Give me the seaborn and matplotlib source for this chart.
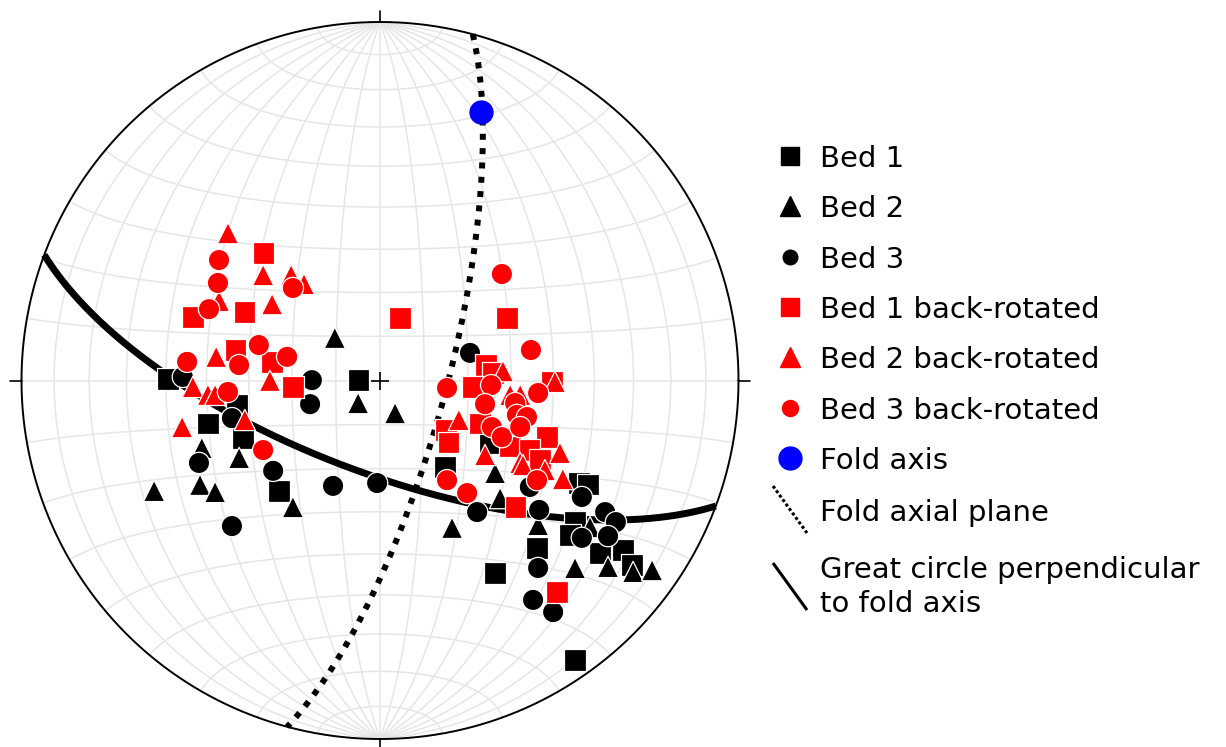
import numpy as np
import pandas as pd
import matplotlib
matplotlib.use("Agg")
import matplotlib.pyplot as plt
import seaborn as sns

# Poles on a lower-hemisphere equal-area (Schmidt) net.
# Coordinates are (east, north) on the projection, net radius = 100.
bed1_east = [-59.1, -48.0, -38.2, -39.9, -5.9, -28.2, 18.1, 43.8, 32.1, 54.4, 55.5, 58.0,
             54.4, 53.0, 61.4, 67.8, 70.3, 30.7]
bed1_north = [0.4, -11.9, -16.0, -6.8, 0.1, -30.8, -24.1, -46.7, -53.7, -78.0, -28.6, -29.1,
              -39.5, -43.1, -48.1, -47.3, -51.5, -17.4]

bed2_east = [-12.6, -6.1, 4.2, -49.7, -39.3, -63.0, -50.2, -46.0, -24.3, 32.1, 33.5, 20.1,
             44.1, 58.6, 63.6, 70.6, 75.9, 54.4]
bed2_north = [11.9, -6.3, -9.1, -18.8, -21.6, -30.8, -29.1, -31.1, -35.3, -25.8, -32.8, -41.1,
              -40.3, -40.9, -52.0, -53.4, -52.9, -52.3]

bed3_east = [-55.0, -19.0, -19.5, -41.3, -50.5, -29.8, -41.3, -13.1, -0.8, 25.1, 27.1, 41.8,
             44.4, 56.3, 62.8, 65.8, 63.6, 56.3, 44.1, 42.7, 48.3]
bed3_north = [1.0, 0.1, -6.6, -10.5, -23.0, -25.2, -40.6, -29.4, -28.6, 7.7, -36.7, -29.7,
              -36.1, -32.5, -36.7, -39.5, -43.4, -43.9, -52.3, -61.2, -64.6]

bed1_rot_east = [-32.4, -52.2, -37.7, -40.4, -30.1, -24.3, 5.6, 35.4, 29.6, 31.5, 48.0, 25.9,
                 18.4, 19.2, 27.9, 36.3, 46.6, 41.8, 44.6, 37.7, 49.4]
bed1_rot_north = [35.6, 17.7, 19.1, 8.5, 5.2, -1.8, 17.4, 17.4, 4.3, 2.1, -0.4, -1.8,
                  -13.8, -17.2, -11.9, -18.5, -15.8, -19.4, -22.2, -35.3, -59.0]

bed2_rot_east = [-42.4, -32.6, -24.8, -21.2, -44.9, -30.1, -45.7, -30.7, -52.2, -48.0, -46.0,
                 -37.7, -55.2, 34.3, 48.8, 36.3, 39.1, 22.0, 29.3, 39.1, 46.0, 50.2, 51.0, 39.9]
bed2_rot_north = [41.1, 29.4, 29.4, 26.9, 22.2, 21.3, 6.6, -0.1, -1.8, -4.0, -4.0,
                  -11.0, -13.0, 2.6, -0.4, -4.0, -4.0, -11.0, -20.8, -23.0, -25.0, -20.2, -27.5, -23.6]

bed3_rot_east = [-44.9, -45.2, -24.3, -47.7, -33.8, -39.3, -53.8, -25.9, -42.4, -32.6, 34.0,
                 42.1, 18.7, 31.0, 44.1, 29.3, 37.7, 38.2, 41.0, 31.2, 34.0, 39.1, 18.7, 24.3, 43.8]
bed3_rot_north = [33.6, 27.2, 25.8, 19.9, 9.9, 4.3, 5.2, 6.6, -3.2, -19.4, 29.7,
                  8.5, -2.1, -1.3, -3.5, -6.6, -6.3, -9.6, -10.2, -13.0, -15.8, -13.0, -27.8, -31.4, -27.8]

# Fold geometry (degrees)
fold_axis_trend = 20.5
fold_axis_plunge = 21.0
axial_plane_strike = 15.0
axial_plane_dip = 75.0

series_labels = ["Bed 1", "Bed 2", "Bed 3",
                 "Bed 1 back-rotated", "Bed 2 back-rotated", "Bed 3 back-rotated"]
extra_labels = ["Fold axis", "Fold axial plane",
                "Great circle perpendicular\nto fold axis"]

series_east = [bed1_east, bed2_east, bed3_east, bed1_rot_east, bed2_rot_east, bed3_rot_east]
series_north = [bed1_north, bed2_north, bed3_north, bed1_rot_north, bed2_rot_north, bed3_rot_north]
series_colors = ["black", "black", "black", "#ff0000", "#ff0000", "#ff0000"]
series_markers = ["s", "^", "o", "s", "^", "o"]

df = pd.concat(
    [pd.DataFrame({"east": e, "north": n, "series": lab})
     for e, n, lab in zip(series_east, series_north, series_labels)],
    ignore_index=True,
)

# ---------------------------------------------------------------- projection
NET_R = 100.0


def project(v):
    """Lower-hemisphere Lambert equal-area projection of unit vectors (E, N, Down)."""
    v = np.atleast_2d(np.asarray(v, float))
    e, n, d = v[:, 0], v[:, 1], np.clip(v[:, 2], 0, 1)
    s = NET_R / np.sqrt(1.0 + d)
    return e * s, n * s


def line_vector(trend, plunge):
    t, p = np.radians(trend), np.radians(plunge)
    return np.array([np.sin(t) * np.cos(p), np.cos(t) * np.cos(p), np.sin(p)])


def plane_trace(strike, dip, n=721):
    s, dp = np.radians(strike), np.radians(dip)
    a = np.array([np.sin(s), np.cos(s), 0.0])
    dd = s + np.pi / 2
    b = np.array([np.sin(dd) * np.cos(dp), np.cos(dd) * np.cos(dp), np.sin(dp)])
    t = np.linspace(0, np.pi, n)[:, None]
    return project(a * np.cos(t) + b * np.sin(t))


def small_circle_ns(alpha, n=721):
    al = np.radians(alpha)
    ph = np.linspace(0, np.pi, n)
    v = np.column_stack([np.sin(al) * np.cos(ph), np.full_like(ph, np.cos(al)), np.sin(al) * np.sin(ph)])
    return project(v)


# ---------------------------------------------------------------- figure
W_PX, H_PX, DPI = 1226, 747, 100
CX_PX, CY_PX, R_PX = 380.0, 380.5, 358.5
scale = R_PX / NET_R

sns.set_theme(style="white")
plt.rcParams["font.family"] = ["DejaVu Sans"]
plt.rcParams["text.color"] = "black"

fig = plt.figure(figsize=(W_PX / DPI, H_PX / DPI), dpi=DPI)
ax = fig.add_axes([0, 0, 1, 1])
ax.set_xlim(-CX_PX / scale, (W_PX - CX_PX) / scale)
ax.set_ylim(-(H_PX - CY_PX) / scale, CY_PX / scale)
ax.set_aspect("equal")
ax.axis("off")

grid_kw = dict(color="#e6e6e6", lw=1.1, zorder=1, solid_capstyle="butt")
for dip in range(10, 91, 10):
    ax.plot(*plane_trace(0, dip), **grid_kw)
    if dip < 90:
        ax.plot(*plane_trace(180, dip), **grid_kw)
for alpha in range(10, 171, 10):
    ax.plot(*small_circle_ns(alpha), **grid_kw)

theta = np.linspace(0, 2 * np.pi, 1441)
ax.plot(NET_R * np.cos(theta), NET_R * np.sin(theta), color="black", lw=1.4, zorder=2)
tick = 3.2
for ang in (0, 90, 180, 270):
    a = np.radians(ang)
    ax.plot([NET_R * np.sin(a), (NET_R + tick) * np.sin(a)],
            [NET_R * np.cos(a), (NET_R + tick) * np.cos(a)], color="black", lw=1.2, zorder=2)
ax.plot([0], [0], marker="+", ms=13, mew=1.2, color="black", zorder=2)

# Fold axial plane and the great circle normal to the fold axis
ax.plot(*plane_trace(axial_plane_strike, axial_plane_dip), color="black", lw=4.3,
        linestyle=(0, (1.0, 1.4)), dash_capstyle="butt", zorder=3)
ax.plot(*plane_trace(fold_axis_trend + 90, 90 - fold_axis_plunge), color="black", lw=5,
        solid_capstyle="butt", zorder=3)

sns.scatterplot(data=df, x="east", y="north", hue="series", style="series",
                palette=dict(zip(series_labels, series_colors)),
                markers=dict(zip(series_labels, series_markers)),
                s=235, edgecolor="white", linewidth=0.9, legend=False, ax=ax, zorder=4)

fx, fy = project(line_vector(fold_axis_trend, fold_axis_plunge))
ax.plot(fx, fy, marker="o", ms=16.5, color="#0000ff", mec="#0000ff", ls="none", zorder=5)

# ---------------------------------------------------------------- key
lax = fig.add_axes([0, 0, 1, 1])
lax.set_xlim(0, W_PX)
lax.set_ylim(H_PX, 0)
lax.axis("off")

mx, tx = 790, 820
key_fs = 21
rows_y = [156, 206, 257, 307, 357, 408, 458]
key_markers = series_markers + ["o"]
key_colors = series_colors + ["#0000ff"]
key_sizes = [13.5, 14, 10.5, 13.5, 14, 11.5, 16.5]
for y, m, c, ms, lab in zip(rows_y, key_markers, key_colors, key_sizes,
                            series_labels + extra_labels[:1]):
    lax.plot(mx, y, marker=m, ms=ms, color=c, mec=c, ls="none")
    lax.text(tx, y, lab, fontsize=key_fs, va="center_baseline", ha="left", color="black")

lax.plot([773, 807], [486, 533], color="black", lw=2.2, linestyle=(0, (1, 0.8)),
         dash_capstyle="butt")
lax.text(tx, 510, extra_labels[1], fontsize=key_fs, va="center_baseline", ha="left", color="black")
lax.plot([773, 807], [563, 610], color="black", lw=2.2, solid_capstyle="butt")
lax.text(tx, 587, extra_labels[2], fontsize=key_fs, va="center", ha="left", linespacing=1.25,
         color="black")

fig.savefig("out.png", dpi=DPI)
